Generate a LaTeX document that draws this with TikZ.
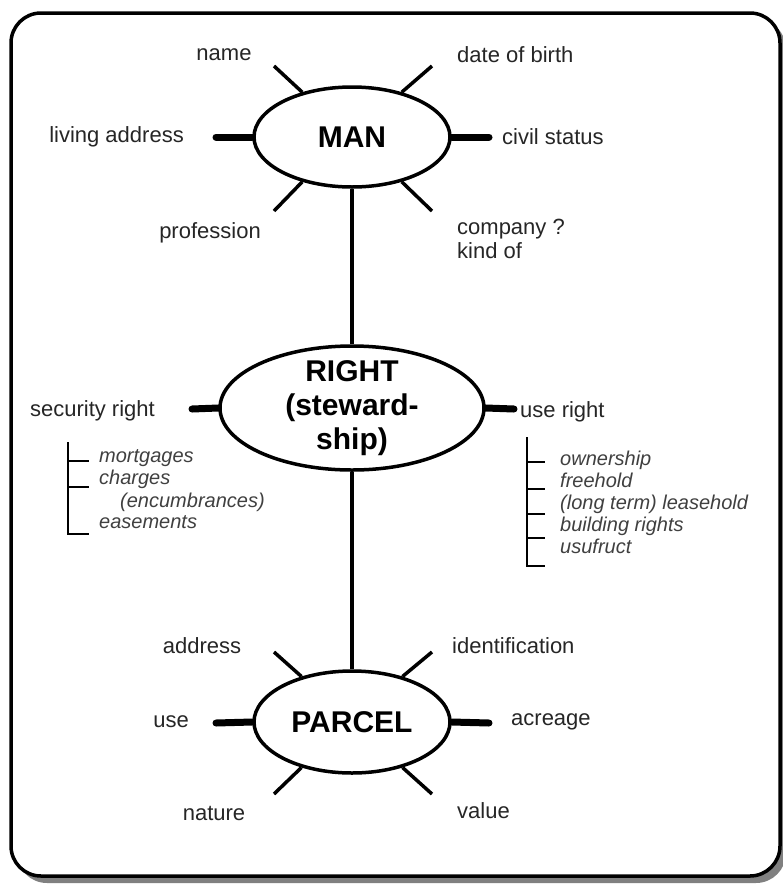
\documentclass[tikz,border=0pt]{standalone}
\usepackage{fontspec}
\setmainfont{Liberation Sans}
\usetikzlibrary{shapes.geometric}
\begin{document}
\begin{tikzpicture}[x=1pt,y=-1pt,
  entity/.style={draw, ellipse, line width=3.5pt, inner sep=0pt, fill=white},
  bigtxt/.style={font=\fontsize{30}{34}\selectfont\bfseries},
  lbl/.style={font=\fontsize{22}{24}\selectfont, text=black!85, inner sep=0pt},
  itm/.style={font=\fontsize{20}{22}\selectfont\itshape, text=black!75, inner sep=0pt, anchor=base west},
  link/.style={line width=3.5pt},
  spoke/.style={line width=3.5pt},
  bar/.style={line width=7pt, line cap=round},
  brk/.style={line width=2.5pt}
]
\useasboundingbox (0,0) rectangle (783,887);
% frame with shadow
\fill[black!50, rounded corners=30pt] (17,19) rectangle (786,883);
\draw[line width=3.5pt, fill=white, rounded corners=30pt] (11,13) rectangle (780,876);

% entities
\node[entity, minimum width=196pt, minimum height=100pt, bigtxt] (man) at (352,137) {MAN};
\node[entity, minimum width=264pt, minimum height=124pt,
      label={[bigtxt, align=center, inner sep=0pt]center:{RIGHT\\(steward-\\ship)}}] (right) at (352,408) {};
\node[entity, minimum width=196pt, minimum height=102pt, bigtxt] (parcel) at (352,722) {PARCEL};

% main connectors
\draw[link] (man.south) -- (right.north);
\draw[link] (right.south) -- (parcel.north);

% MAN spokes
\coordinate (mNW) at (274,66);
\coordinate (mNE) at (432,66);
\coordinate (mW) at (216,137);
\coordinate (mE) at (489,137);
\coordinate (mSW) at (274,211);
\coordinate (mSE) at (432,211);
\draw[spoke] (man.138) -- (mNW);
\draw[spoke] (man.42) -- (mNE);
\draw[spoke] (man.222) -- (mSW);
\draw[spoke] (man.318) -- (mSE);
\draw[bar] (man.west) -- (mW);
\draw[bar] (man.east) -- (mE);

\node[lbl] (name) at (224,55) {name};
\node[lbl, anchor=west] (dob) at (457,55) {date of birth};
\node[lbl, anchor=east] (living) at (184,137) {living address};
\node[lbl, anchor=west] (civil) at (502,137) {civil status};
\node[lbl] (prof) at (210,233) {profession};
\node[lbl, anchor=west, align=left] (company) at (457,239) {company ?\\kind of};

% RIGHT bars
\coordinate (rW) at (192,409);
\coordinate (rE) at (514,409);
\draw[bar] (right.west) -- (rW);
\draw[bar] (right.east) -- (rE);
\node[lbl, anchor=east] (security) at (155,411) {security right};
\node[lbl, anchor=west] (use) at (520,412) {use right};

% left list
\draw[brk] (68,442) -- (68,534) -- (89,534);
\draw[brk] (68,461) -- (89,461);
\draw[brk] (68,487) -- (89,487);
\node[itm] (mort) at (99,462) {mortgages};
\node[itm] (charges) at (99,484) {charges};
\node[itm] (encumb) at (120,507) {(encumbrances)};
\node[itm] (ease) at (99,528) {easements};

% right list
\draw[brk] (527,437) -- (527,566) -- (545,566);
\draw[brk] (527,462) -- (545,462);
\draw[brk] (527,489) -- (545,489);
\draw[brk] (527,514) -- (545,514);
\draw[brk] (527,538) -- (545,538);
\node[itm] (own) at (560,465) {ownership};
\node[itm] (free) at (560,487) {freehold};
\node[itm] (lease) at (560,509) {(long term) leasehold};
\node[itm] (build) at (560,531) {building rights};
\node[itm] (usu) at (560,553) {usufruct};

% PARCEL spokes
\coordinate (pNW) at (274,652);
\coordinate (pNE) at (432,652);
\coordinate (pW) at (216,723);
\coordinate (pE) at (489,723);
\coordinate (pSW) at (274,794);
\coordinate (pSE) at (432,794);
\draw[spoke] (parcel.138) -- (pNW);
\draw[spoke] (parcel.42) -- (pNE);
\draw[spoke] (parcel.222) -- (pSW);
\draw[spoke] (parcel.318) -- (pSE);
\draw[bar] (parcel.west) -- (pW);
\draw[bar] (parcel.east) -- (pE);

\node[lbl] (addr) at (202,646) {address};
\node[lbl, anchor=west] (ident) at (452,646) {identification};
\node[lbl, anchor=east] (puse) at (189,722) {use};
\node[lbl, anchor=west] (acre) at (511,722) {acreage};
\node[lbl] (nature) at (214,813) {nature};
\node[lbl, anchor=west] (value) at (457,811) {value};
\end{tikzpicture}
\end{document}
